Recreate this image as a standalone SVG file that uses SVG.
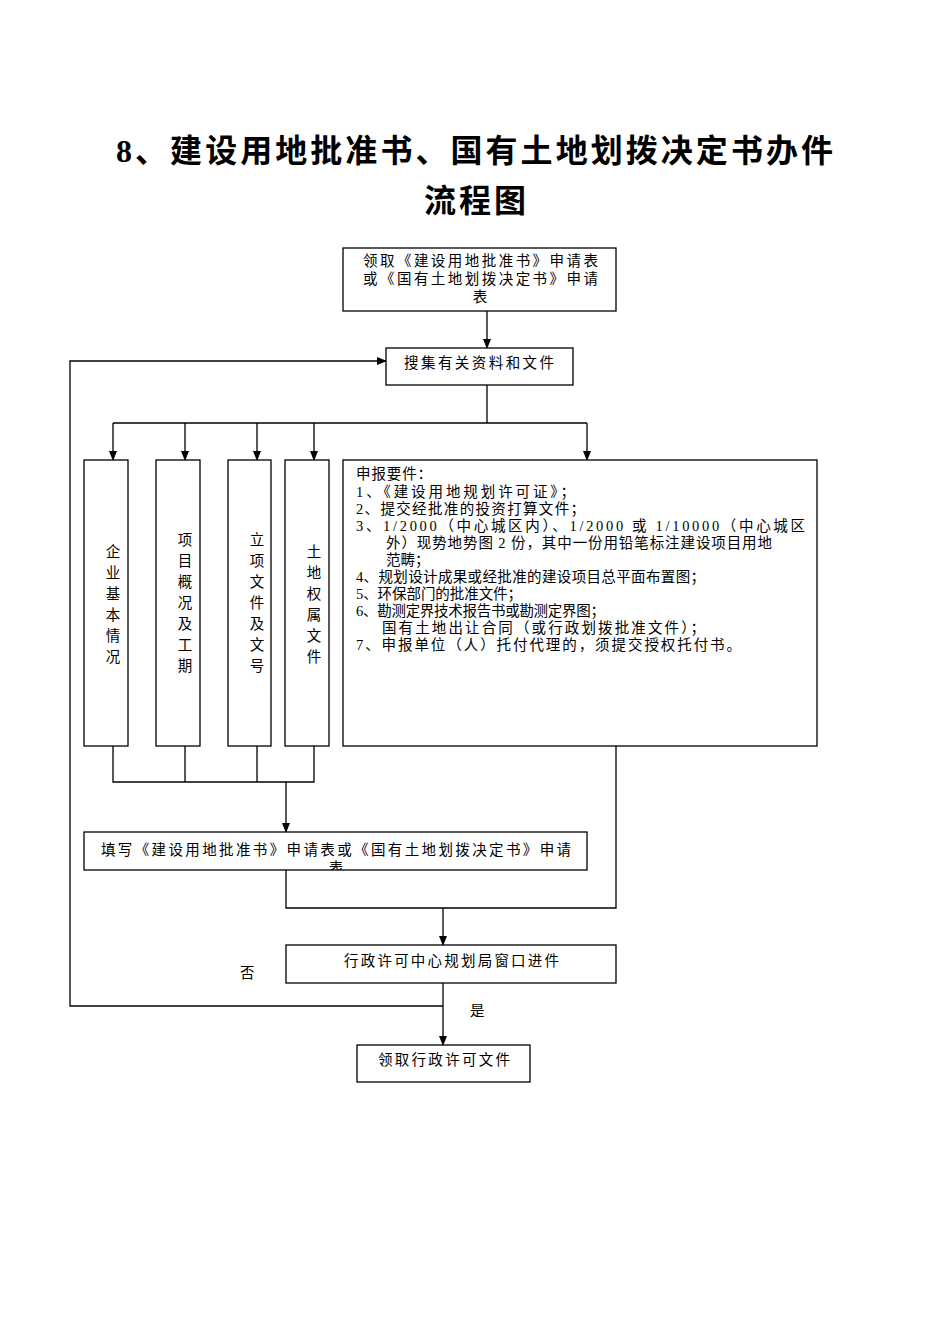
<svg xmlns="http://www.w3.org/2000/svg" width="950" height="1344" viewBox="0 0 950 1344">
<style>
text{font-family:"Liberation Serif","Noto Sans CJK SC",serif;font-size:14.5px;fill:#000}
.t{font-size:32px;font-weight:bold}
.c{text-anchor:middle}
rect{fill:#fff;stroke:#000;stroke-width:1.3}
.ln{fill:none;stroke:#000;stroke-width:1.3}
</style>
<defs><marker id="a" markerWidth="10" markerHeight="10" refX="9" refY="5" orient="auto" markerUnits="userSpaceOnUse"><path d="M0,1 L10,5 L0,9 z" fill="#000"/></marker></defs>
<text class="t" x="116" y="162" textLength="717" lengthAdjust="spacing">8、建设用地批准书、国有土地划拨决定书办件</text>
<text class="t" x="424" y="212" textLength="102" lengthAdjust="spacing">流程图</text>
<g id="connectors" class="ln">
<path d="M487,311 V348" marker-end="url(#a)"/>
<path d="M487,385 V423"/>
<path d="M113,423 H587"/>
<path d="M113,423 V460" marker-end="url(#a)"/>
<path d="M185,423 V460" marker-end="url(#a)"/>
<path d="M257,423 V460" marker-end="url(#a)"/>
<path d="M314,423 V460" marker-end="url(#a)"/>
<path d="M587,423 V460" marker-end="url(#a)"/>
<path d="M113,746 V782 H314 V746 M185,746 V782 M257,746 V782"/>
<path d="M286,782 V832" marker-end="url(#a)"/>
<path d="M286,870 V908 H616 V746"/>
<path d="M443,908 V945" marker-end="url(#a)"/>
<path d="M443,983 V1045" marker-end="url(#a)"/>
<path d="M443,1006 H70 V361 H386" marker-end="url(#a)"/>
</g>
<g id="n1"><rect x="343" y="248" width="273" height="63"/>
<text x="363" y="266" textLength="235" lengthAdjust="spacing">领取《建设用地批准书》申请表</text>
<text x="363" y="284" textLength="235" lengthAdjust="spacing">或《国有土地划拨决定书》申请</text>
<text class="c" x="480" y="302">表</text></g>
<g id="n2"><rect x="386" y="348" width="187" height="37"/><text x="404" y="368" textLength="150" lengthAdjust="spacing">搜集有关资料和文件</text></g>
<g id="n3"><rect x="84" y="460" width="44" height="286"/>
<text class="c" x="113" y="557">企</text><text class="c" x="113" y="578">业</text><text class="c" x="113" y="599">基</text><text class="c" x="113" y="620">本</text><text class="c" x="113" y="641">情</text><text class="c" x="113" y="662">况</text></g>
<g id="n4"><rect x="156" y="460" width="44" height="286"/>
<text class="c" x="185" y="545">项</text><text class="c" x="185" y="566">目</text><text class="c" x="185" y="587">概</text><text class="c" x="185" y="608">况</text><text class="c" x="185" y="629">及</text><text class="c" x="185" y="650">工</text><text class="c" x="185" y="671">期</text></g>
<g id="n5"><rect x="228" y="460" width="43" height="286"/>
<text class="c" x="257" y="545">立</text><text class="c" x="257" y="566">项</text><text class="c" x="257" y="587">文</text><text class="c" x="257" y="608">件</text><text class="c" x="257" y="629">及</text><text class="c" x="257" y="650">文</text><text class="c" x="257" y="671">号</text></g>
<g id="n6"><rect x="285" y="460" width="44" height="286"/>
<text class="c" x="314" y="557">土</text><text class="c" x="314" y="578">地</text><text class="c" x="314" y="599">权</text><text class="c" x="314" y="620">属</text><text class="c" x="314" y="641">文</text><text class="c" x="314" y="662">件</text></g>
<g id="n7"><rect x="343" y="460" width="474" height="286"/>
<text x="356" y="479" textLength="76" lengthAdjust="spacing">申报要件：</text>
<text x="356" y="497" textLength="219" lengthAdjust="spacing">1、《建设用地规划许可证》；</text>
<text x="356" y="514" textLength="229" lengthAdjust="spacing">2、提交经批准的投资打算文件；</text>
<text x="356" y="531" textLength="449" lengthAdjust="spacing">3、1/2000（中心城区内）、1/2000 或 1/10000（中心城区</text>
<text x="386" y="548" textLength="386" lengthAdjust="spacing">外）现势地势图 2 份，其中一份用铅笔标注建设项目用地</text>
<text x="386" y="565">范畴；</text>
<text x="356" y="582" textLength="349" lengthAdjust="spacing">4、规划设计成果或经批准的建设项目总平面布置图；</text>
<text x="356" y="599" textLength="166" lengthAdjust="spacing">5、环保部门的批准文件；</text>
<text x="356" y="616" textLength="249" lengthAdjust="spacing">6、勘测定界技术报告书或勘测定界图；</text>
<text x="382" y="633" textLength="323" lengthAdjust="spacing">国有土地出让合同（或行政划拨批准文件）；</text>
<text x="356" y="650" textLength="385" lengthAdjust="spacing">7、申报单位（人）托付代理的，须提交授权托付书。</text></g>
<g id="n8"><rect x="84" y="832" width="503" height="38"/>
<text x="101" y="855" textLength="470" lengthAdjust="spacing">填写《建设用地批准书》申请表或《国有土地划拨决定书》申请</text>
<svg x="84" y="832" width="503" height="38" overflow="hidden"><text class="c" x="252" y="41">表</text></svg></g>
<g id="n9"><rect x="286" y="945" width="330" height="38"/><text x="344" y="966" textLength="215" lengthAdjust="spacing">行政许可中心规划局窗口进件</text></g>
<g id="n10"><rect x="357" y="1045" width="173" height="37"/><text x="378" y="1065" textLength="132" lengthAdjust="spacing">领取行政许可文件</text></g>
<text x="240" y="978">否</text>
<text x="470" y="1016">是</text>
</svg>
